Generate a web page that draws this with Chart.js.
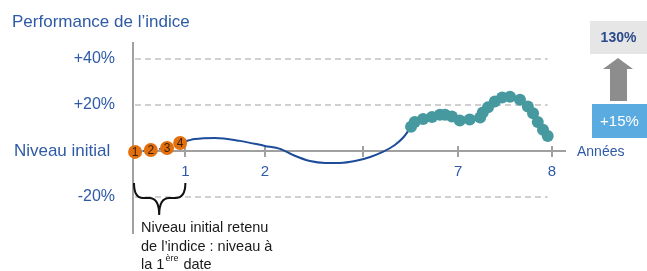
<!DOCTYPE html>
<html><head><meta charset="utf-8">
<script src="https://cdn.jsdelivr.net/npm/chart.js@4"></script>
<style>html,body{margin:0;padding:0;background:#fff}canvas{display:block}</style>
</head><body>
<canvas id="c" width="647" height="271"></canvas>
<script>
// Observation dates for the initial level (orange)
const observationX = [0.04, 0.34, 0.65, 0.90];
const observationY = [-0.4, 0.4, 1.3, 3.5];
const observationLabels = ['1', '2', '3', '4'];
// Index performance path (blue line)
const indexX = [0.90, 1.18, 1.57, 2.04, 2.52, 2.81, 3.05, 3.38, 3.67, 3.95, 4.24, 4.53, 4.77, 5.00, 5.17, 5.31];
const indexY = [3.5, 5.2, 5.7, 4.4, 2.2, 0.9, -1.7, -4.4, -5.2, -5.2, -4.4, -2.6, -0.4, 2.6, 6.1, 10.5];
// Final observation dates (teal)
const finalX = [5.31, 5.38, 5.54, 5.71, 5.86, 5.96, 6.09, 6.24, 6.43, 6.63, 6.68, 6.78, 6.91, 7.05, 7.20, 7.39, 7.54, 7.64, 7.73, 7.83, 7.92];
const finalY = [10.5, 12.6, 13.9, 14.8, 15.8, 15.8, 15.0, 13.3, 13.7, 14.6, 16.8, 19.0, 21.5, 23.3, 23.6, 22.3, 19.4, 16.4, 12.6, 9.2, 6.5];
// Axis ticks
const xTickValues = [1, 2.52, 4.39, 6.21, 8];
const xTickLabels = ['1', '2', '', '7', '8'];
const yTickValues = [-20, 0, 20, 40];
const yTickLabels = ['-20%', 'Niveau initial ', '+20%', '+40%'];
// Annotations
const titleText = 'Performance de l’indice';
const axisTitle = 'Années';
const targetLabel = '130%';
const gainLabel = '+15%';
const noteLines = ['Niveau initial retenu', 'de l’indice : niveau à'];

const FONT = "'Liberation Sans', Arial, sans-serif";
const BLUE = '#2e5aa6';
const pts = (xs, ys) => xs.map((x, i) => ({x, y: ys[i]}));

const decor = {
  id: 'decor',
  beforeDatasetsDraw(chart) {
    const {ctx, chartArea, scales: {x, y}} = chart;
    ctx.save();
    ctx.strokeStyle = '#d0d0d0';
    ctx.lineWidth = 2;
    ctx.setLineDash([6, 4]);
    const xEnd = x.getPixelForValue(7.92);
    yTickValues.forEach(v => {
      if (v === 0) return;
      const py = Math.round(y.getPixelForValue(v));
      ctx.beginPath(); ctx.moveTo(chartArea.left + 2, py); ctx.lineTo(xEnd, py); ctx.stroke();
    });
    ctx.setLineDash([]);
    ctx.strokeStyle = '#a0a0a0';
    const py0 = y.getPixelForValue(0);
    xTickValues.forEach(v => {
      const px = Math.round(x.getPixelForValue(v));
      ctx.beginPath(); ctx.moveTo(px, py0 - 5); ctx.lineTo(px, py0 + 6); ctx.stroke();
    });
    ctx.restore();
  },
  afterDatasetsDraw(chart) {
    const {ctx, chartArea, scales: {x, y}} = chart;
    ctx.save();
    const meta = chart.getDatasetMeta(2);
    ctx.fillStyle = '#3a1f05';
    ctx.font = '12px ' + FONT;
    ctx.textAlign = 'center';
    ctx.textBaseline = 'middle';
    meta.data.forEach((pt, i) => ctx.fillText(observationLabels[i], pt.x, pt.y + 1));

    const py0 = y.getPixelForValue(0);
    ctx.fillStyle = BLUE;
    ctx.font = '14px ' + FONT;
    ctx.textAlign = 'left';
    ctx.fillText(axisTitle, chartArea.right + 12, py0 + 1);

    const L = x.getPixelForValue(0), R = x.getPixelForValue(1), C = (L + R) / 2;
    const top = 183, mid = 198, tip = 215, q = 10;
    ctx.strokeStyle = '#111';
    ctx.lineWidth = 2;
    ctx.beginPath();
    ctx.moveTo(L + 1, top);
    ctx.quadraticCurveTo(L + 1, mid, L + q, mid);
    ctx.lineTo(C - q, mid);
    ctx.quadraticCurveTo(C, mid, C, tip);
    ctx.moveTo(R, top);
    ctx.quadraticCurveTo(R, mid, R - q, mid);
    ctx.lineTo(C + q, mid);
    ctx.quadraticCurveTo(C, mid, C, tip);
    ctx.stroke();

    ctx.fillStyle = '#1a1a1a';
    ctx.font = '14.5px ' + FONT;
    ctx.textBaseline = 'middle';
    ctx.textAlign = 'left';
    const tx = 141;
    ctx.fillText(noteLines[0], tx, 228);
    ctx.fillText(noteLines[1], tx, 247);
    ctx.fillText('la 1', tx, 265);
    const w = ctx.measureText('la 1').width;
    ctx.font = '9px ' + FONT;
    ctx.fillText('ère', tx + w + 1, 259);
    const w2 = ctx.measureText('ère').width;
    ctx.font = '14.5px ' + FONT;
    ctx.fillText('date', tx + w + w2 + 6, 265);

    ctx.fillStyle = '#e6e6e6';
    ctx.fillRect(590, 21, 57, 33);
    ctx.fillStyle = '#2b4a8c';
    ctx.font = 'bold 14px ' + FONT;
    ctx.textAlign = 'center';
    ctx.fillText(targetLabel, 618.5, 38);

    ctx.fillStyle = '#8d8d8d';
    ctx.beginPath();
    ctx.moveTo(618, 58); ctx.lineTo(633, 69); ctx.lineTo(627, 69); ctx.lineTo(627, 101);
    ctx.lineTo(610, 101); ctx.lineTo(610, 69); ctx.lineTo(603, 69); ctx.closePath();
    ctx.fill();

    ctx.fillStyle = '#5aace0';
    ctx.fillRect(592, 104, 55, 34);
    ctx.fillStyle = '#ffffff';
    ctx.font = '15px ' + FONT;
    ctx.fillText(gainLabel, 619.5, 121.5);
    ctx.restore();
  }
};

new Chart(document.getElementById('c'), {
  type: 'line',
  data: {
    datasets: [
      {data: pts(indexX, indexY), borderColor: '#1d4c9b', borderWidth: 2, pointRadius: 0,
       cubicInterpolationMode: 'monotone', order: 2, clip: false},
      {data: pts(finalX, finalY), borderColor: '#46999f', backgroundColor: '#46999f', borderWidth: 4,
       pointRadius: 6, pointBorderWidth: 0, pointBackgroundColor: '#46999f', cubicInterpolationMode: 'monotone', order: 1, clip: false},
      {data: pts(observationX, observationY), borderColor: '#1d4c9b', borderWidth: 1.5, borderDash: [2, 2],
       pointRadius: 7, pointBorderWidth: 0, pointBackgroundColor: '#e3700f', order: 0, clip: false}
    ]
  },
  options: {
    responsive: false,
    devicePixelRatio: 1,
    animation: false,
    layout: {padding: {left: 12, top: 0, right: 82, bottom: 38}},
    plugins: {
      legend: {display: false},
      tooltip: {enabled: false},
      title: {display: true, text: titleText, align: 'start', color: BLUE,
              font: {family: FONT, size: 17, weight: 'normal'}, padding: {top: 12, bottom: 10.6}}
    },
    scales: {
      x: {
        type: 'linear', min: 0, max: 8.25, position: {y: 0},
        grid: {display: false, drawTicks: false},
        border: {display: true, color: '#a0a0a0', width: 2},
        afterBuildTicks: s => { s.ticks = xTickValues.map(v => ({value: v})); },
        ticks: {autoSkip: false, maxRotation: 0, padding: 12, color: BLUE,
                font: {family: FONT, size: 15}, callback: (v, i) => xTickLabels[i]}
      },
      y: {
        type: 'linear', min: -35.7, max: 47,
        grid: {display: false, drawTicks: false},
        border: {display: true, color: '#a0a0a0', width: 2},
        afterBuildTicks: s => { s.ticks = yTickValues.map(v => ({value: v})); },
        afterFit: s => { s.width = 121; },
        ticks: {autoSkip: false, padding: 18, color: BLUE,
                font: c => ({family: FONT, size: (c.tick && c.tick.value === 0) ? 17 : 16}),
                callback: (v, i) => yTickLabels[i]}
      }
    }
  },
  plugins: [decor]
});
</script>
</body></html>
